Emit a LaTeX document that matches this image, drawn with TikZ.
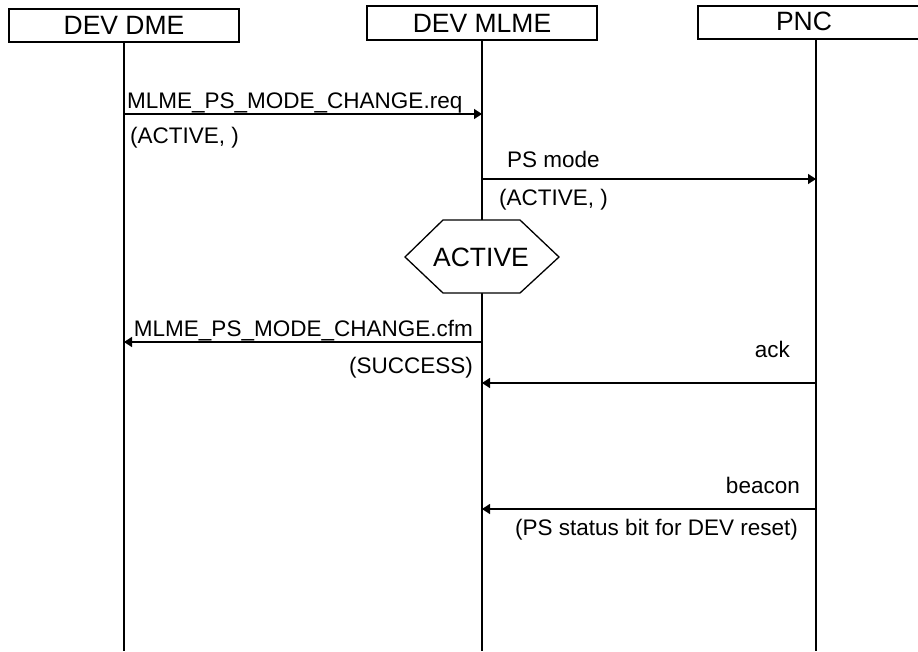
\documentclass[tikz,border=0pt]{standalone}
\usepackage{fontspec}
\setmainfont{Liberation Sans}
\usetikzlibrary{arrows.meta}
\begin{document}
\begin{tikzpicture}[x=1pt,y=-1pt,
  hdr/.style={draw,line width=1.3pt,inner sep=0pt,font=\fontsize{26.5}{28}\selectfont},
  lbl/.style={inner sep=0pt,font=\fontsize{22.5}{24}\selectfont},
  big/.style={inner sep=0pt,font=\fontsize{26.5}{28}\selectfont},
  life/.style={line width=1.5pt},
  msg/.style={line width=1.3pt,-{Triangle[length=8pt,width=10pt]}}]
\useasboundingbox (0,0) rectangle (918,651);
% header boxes
\node[hdr,minimum width=230pt,minimum height=33pt] (dme) at (124,25.5) {DEV DME};
\node[hdr,minimum width=230pt,minimum height=34pt] (mlme) at (482,23) {DEV MLME};
\node[hdr,minimum width=236pt,minimum height=33pt] (pnc) at (816,22.5) {};
\node[big] (pnctext) at (804,21.5) {PNC};
% lifeline ends
\coordinate (dmeEnd) at (124,651);
\coordinate (mlmeEnd) at (482,651);
\coordinate (pncEnd) at (816,651);
\draw[life] (dme.south) -- (dmeEnd);
\draw[life] (mlme.south) -- (mlmeEnd);
\draw[life] (pnc.south) -- (pncEnd);
% message end points
\coordinate (r1) at (124,114); \coordinate (r2) at (482,114);
\coordinate (p1) at (482,179);   \coordinate (p2) at (816,179);
\coordinate (c1) at (482,342);   \coordinate (c2) at (124,342);
\coordinate (a1) at (816,383);   \coordinate (a2) at (482,383);
\coordinate (b1) at (816,509);   \coordinate (b2) at (482,509);
\draw[msg] (r1) -- (r2);
\draw[msg] (p1) -- (p2);
\draw[msg] (c1) -- (c2);
\draw[msg] (a1) -- (a2);
\draw[msg] (b1) -- (b2);
% labels
\node[lbl,anchor=base west] (reqlbl) at (127,108) {MLME\_PS\_MODE\_CHANGE.req};
\node[lbl,anchor=base west] (reqarg) at (130,143) {(ACTIVE, )};
\node[lbl,anchor=base west] (pslbl) at (507,167) {PS mode};
\node[lbl,anchor=base west] (psarg) at (499,205) {(ACTIVE, )};
\node[lbl,anchor=base east] (cfmlbl) at (473,336) {MLME\_PS\_MODE\_CHANGE.cfm};
\node[lbl,anchor=base east] (cfmarg) at (473,373) {(SUCCESS)};
\node[lbl,anchor=base east] (acklbl) at (790,357) {ack};
\node[lbl,anchor=base east] (beaconlbl) at (800,493) {beacon};
\node[lbl,anchor=base east] (beaconarg) at (798,535) {(PS status bit for DEV reset)};
% state hexagon
\draw[line width=1.3pt,fill=white] (405,257) -- (443,220) -- (520,220) -- (559,257) -- (520,293) -- (443,293) -- cycle;
\node[big] (active) at (481,257) {ACTIVE};
\end{tikzpicture}
\end{document}
